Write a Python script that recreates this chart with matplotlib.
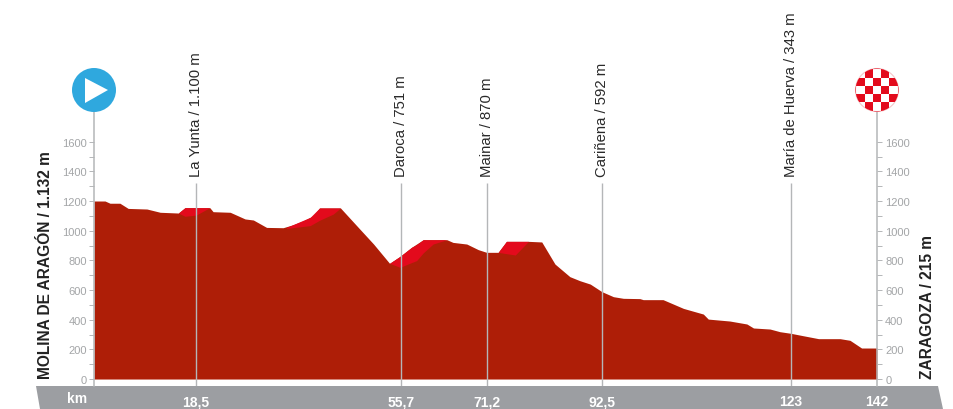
import matplotlib
matplotlib.use('Agg')
import matplotlib.pyplot as plt
from matplotlib.patches import Circle, Polygon, Rectangle
from matplotlib.transforms import IdentityTransform

# stage profile, km / metres
km = [0, 2.0, 2.9, 4.7, 6.2, 9.6, 12.0, 15.3, 16.5, 21.0, 21.6, 24.7, 27.4, 28.9, 31.3, 34.3,
      36.1, 38.0, 39.8, 40.9, 44.7, 48.2, 50.7, 53.6, 55.5, 57.6, 59.7, 64.0, 65.1, 67.6, 69.7,
      71.2, 73.3, 74.8, 78.8, 81.2, 83.6, 86.3, 88.1, 90.0, 92.1, 94.2, 96.0, 99.0, 99.6, 103.2,
      106.9, 110.5, 111.4, 115.3, 118.4, 119.6, 122.6, 124.4, 126.4, 128.6, 131.4, 135.3, 137.1,
      139.2, 142]
elev = [1200, 1200, 1185, 1185, 1150, 1146, 1124, 1119, 1155, 1155, 1128, 1124, 1079, 1072, 1022, 1020,
        1040, 1067, 1101, 1153, 1153, 1011, 910, 780, 827, 888, 939, 939, 921, 910, 872,
        854, 854, 928, 928, 924, 775, 690, 663, 640, 589, 555, 544, 542, 535, 535,
        476, 438, 404, 391, 371, 344, 337, 319, 308, 292, 272, 272, 261,
        209, 209]

# climbs, brighter red: km, upper edge, lower edge
climb1_km = [15.3, 16.5, 18.5, 21.0]
climb1_top = [1119, 1155, 1155, 1155]
climb1_low = [1119, 1097, 1105, 1155]
climb2_km = [34.9, 39.2, 40.9, 43.4, 44.7]
climb2_top = [1022, 1090, 1153, 1153, 1153]
climb2_low = [1015, 1034, 1070, 1112, 1153]
climb3_km = [53.6, 55.5, 57.6, 58.5, 59.7, 61.5, 64.0]
climb3_top = [780, 827, 888, 905, 939, 939, 939]
climb3_low = [780, 753, 785, 798, 850, 910, 939]
climb4_km = [73.3, 74.8, 76.4, 78.8]
climb4_top = [854, 928, 928, 928]
climb4_low = [854, 845, 836, 928]

places = ['La Yunta / 1.100 m', 'Daroca / 751 m', 'Mainar / 870 m', 'Cariñena / 592 m', 'María de Huerva / 343 m']
place_x = [18.5, 55.7, 71.2, 92.2, 126.4]
km_labels = ['18,5', '55,7', '71,2', '92,5', '123', '142']
km_ticks = [18.5, 55.7, 71.2, 92.2, 126.4, 142]
y_major = [0, 200, 400, 600, 800, 1000, 1200, 1400, 1600]
y_minor = [100, 300, 500, 700, 900, 1100, 1300, 1500]

W, H = 954, 410
DARK = '#ae1e07'
BRIGHT = '#e30a1c'
GREY = '#b4b6b8'
FONT = 'Liberation Sans'

fig = plt.figure(figsize=(W / 100, H / 100), dpi=100, facecolor='white')
ax = fig.add_axes([94 / W, (H - 387) / H, 783 / W, 274 / H], facecolor='none')
ax.set_xlim(0, 142)
ax.set_ylim(-47, 1800)

ax.fill_between(km, 0, elev, color=DARK, lw=0, zorder=2)
for cx, ct, cl in [(climb1_km, climb1_top, climb1_low), (climb2_km, climb2_top, climb2_low),
                   (climb3_km, climb3_top, climb3_low), (climb4_km, climb4_top, climb4_low)]:
    ax.fill_between(cx, cl, ct, color=BRIGHT, lw=0, zorder=3)

ax.vlines(place_x, -47, 1322, color=GREY, lw=1.0, zorder=4)
for name, x in zip(places, place_x):
    ax.text(x, 1369, name, rotation=90, ha='center', va='bottom', fontsize=10.7,
            family=FONT, color='#2a2a2a')

for s in ['top', 'bottom']:
    ax.spines[s].set_visible(False)
for s in ['left', 'right']:
    ax.spines[s].set_color(GREY)
    ax.spines[s].set_linewidth(1.1)

ax.set_yticks(y_major)
ax.set_yticks(y_minor, minor=True)
ax.tick_params(axis='y', which='both', length=3.4, width=0.7, color=GREY, labelsize=8,
               labelcolor='#a3a5a7', pad=1.5)
for lab in ax.get_yticklabels():
    lab.set_family(FONT)

ax2 = ax.twinx()
ax2.set_ylim(ax.get_ylim())
ax2.set_facecolor('none')
for s in ax2.spines.values():
    s.set_visible(False)
ax2.set_yticks(y_major)
ax2.set_yticks(y_minor, minor=True)
ax2.tick_params(axis='y', which='both', length=3.4, width=0.7, color=GREY, labelsize=8,
                labelcolor='#a3a5a7', pad=2.5)
for lab in ax2.get_yticklabels():
    lab.set_family(FONT)

ax.set_xticks(km_ticks, km_labels, family=FONT, weight='bold', fontsize=10, color='white')
ax.tick_params(axis='x', length=0, pad=6)

px = IdentityTransform()

# grey km band under the profile
fig.add_artist(Polygon([(36, H - 387), (938, H - 387), (943, 0), (40, 0)], closed=True,
                       facecolor='#9c9ea2', edgecolor='none', transform=px, zorder=-1))
fig.text(77 / W, (H - 399) / H, 'km', color='white', family=FONT, weight='bold', fontsize=10,
         ha='center', va='center')

fig.text(46 / W, (H - 379) / H, 'MOLINA DE ARAGÓN / 1.132 m', rotation=90, ha='center', va='bottom',
         family=FONT, weight='bold', fontsize=11.2, color='#222222')
fig.text(928 / W, (H - 379) / H, 'ZARAGOZA / 215 m', rotation=90, ha='center', va='bottom',
         family=FONT, weight='bold', fontsize=11.2, color='#222222')

# start badge
fig.add_artist(Circle((94, H - 91), 22, facecolor='#2fa8de', edgecolor='none', transform=px, zorder=5))
fig.add_artist(Polygon([(85, H - 79), (85, H - 104), (108, H - 91)], closed=True, facecolor='white',
                       edgecolor='none', transform=px, zorder=6))

# finish badge
cx0, cy0, r, cell = 877, H - 91, 21.5, 8.3
fig.add_artist(Circle((cx0, cy0), r, facecolor='white', edgecolor='#f4c6c9', lw=0.8, transform=px, zorder=5))
for i in range(-3, 4):
    for j in range(-3, 4):
        if (i + j) % 2 != 0:
            sq = Rectangle((cx0 + i * cell - cell / 2, cy0 + j * cell - cell / 2), cell, cell,
                           facecolor='#e30a1c', edgecolor='none', transform=px, zorder=6)
            fig.add_artist(sq)
            sq.set_clip_path(Circle((cx0, cy0), r, transform=px))

plt.savefig('out.png', dpi=100)
